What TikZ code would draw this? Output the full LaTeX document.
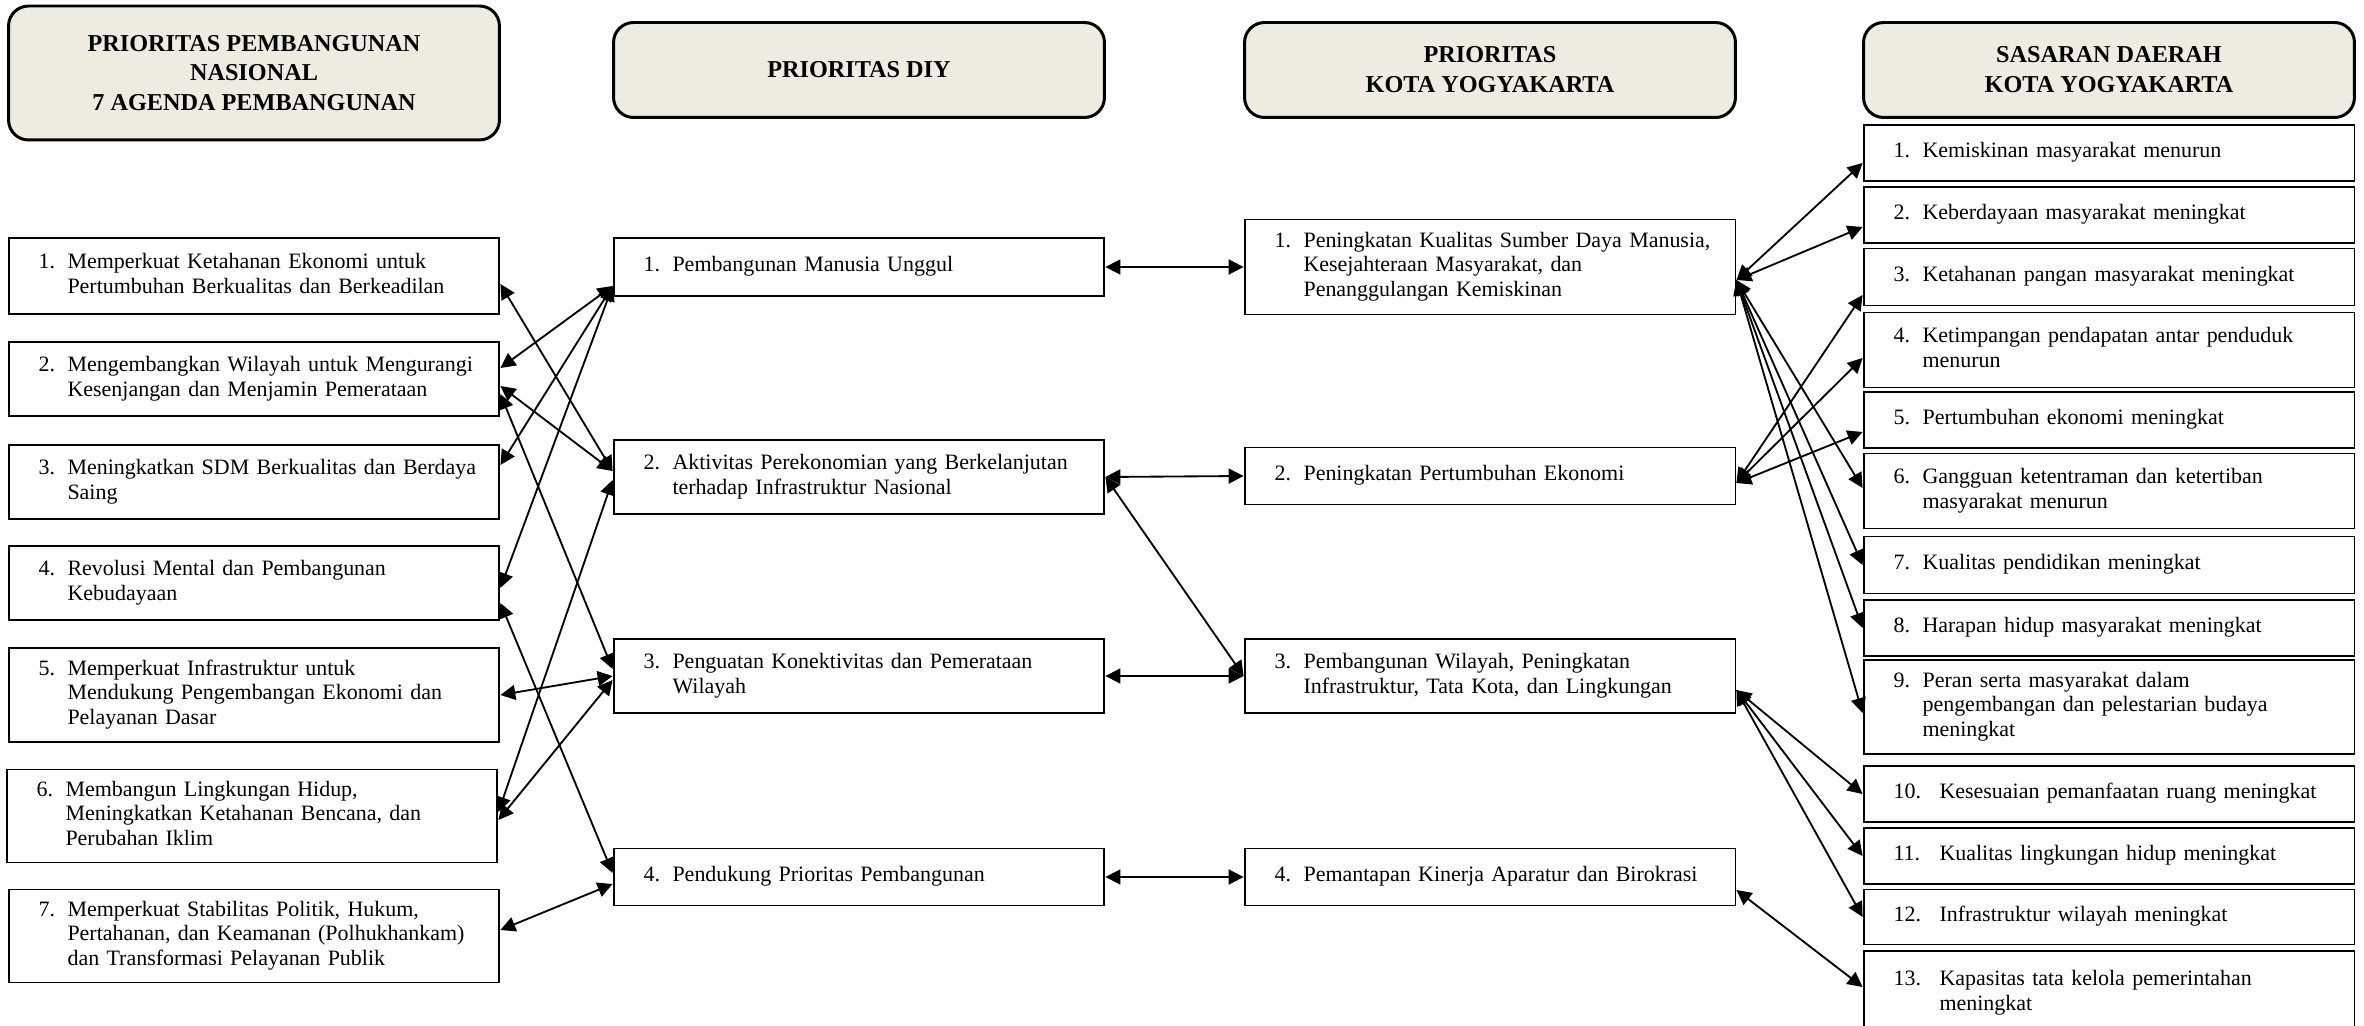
\documentclass[tikz,border=0pt]{standalone}
\usepackage{fontspec}
\setmainfont{Liberation Serif}
\usetikzlibrary{arrows.meta,calc}
\definecolor{headfill}{RGB}{238,236,225}
\newlength{\padl}
\setlength{\padl}{0.24cm}
\newcommand{\itm}[3][0.58cm]{\hspace*{\padl}\makebox[#1][l]{#2}\begin{tabular}[t]{@{}l@{}}#3\end{tabular}}
\tikzset{>={Triangle[length=8.5pt,width=8.5pt]}}
\tikzset{
    head/.style={rectangle,draw,rounded corners=0.4cm,fill=headfill,line width=1.7pt,
        minimum width=9.82cm,minimum height=1.9cm,align=center,
        font=\bfseries\fontsize{13.8}{17}\selectfont},
    item/.style={rectangle,draw,line width=1.1pt,text width=9.1cm,inner xsep=0.36cm,
        inner ysep=0pt,align=left,font=\fontsize{12.5}{14.2}\selectfont},
    boxh/.style={minimum height=#1*0.02cm},
    link/.style={<->,line width=1.05pt},
}

\begin{document}
\begin{tikzpicture}[x=0.02cm,y=-0.02cm]
		\useasboundingbox (0,0) rectangle (2364,1026);
		\clip (0,0) rectangle (2364,1026);

		\node[head,minimum height=2.68cm] (h1) at (254,73) {PRIORITAS PEMBANGUNAN\\NASIONAL\\7 AGENDA PEMBANGUNAN};
		\node[head] (h2) at (859,70) {PRIORITAS DIY};
		\node[head] (h3) at (1490,70) {PRIORITAS\\KOTA YOGYAKARTA};
		\node[head] (h4) at (2109,70) {SASARAN DAERAH\\KOTA YOGYAKARTA};

		\node[item,boxh=76] (L1) at (254,276) {\itm{1.}{Memperkuat Ketahanan Ekonomi untuk\\Pertumbuhan Berkualitas dan Berkeadilan}};
		\node[item,boxh=74] (L2) at (254,379) {\itm{2.}{Mengembangkan Wilayah untuk Mengurangi\\Kesenjangan dan Menjamin Pemerataan}};
		\node[item,boxh=74] (L3) at (254,482) {\itm{3.}{Meningkatkan SDM Berkualitas dan Berdaya\\Saing}};
		\node[item,boxh=74] (L4) at (254,583) {\itm{4.}{Revolusi Mental dan Pembangunan\\Kebudayaan}};
		\node[item,boxh=94] (L5) at (254,695) {\itm{5.}{Memperkuat Infrastruktur untuk\\Mendukung Pengembangan Ekonomi dan\\Pelayanan Dasar}};
		\node[item,boxh=93] (L6) at (252,816) {\itm{6.}{Membangun Lingkungan Hidup,\\Meningkatkan Ketahanan Bencana, dan\\Perubahan Iklim}};
		\node[item,boxh=93] (L7) at (254,936) {\itm{7.}{Memperkuat Stabilitas Politik, Hukum,\\Pertahanan, dan Keamanan (Polhukhankam)\\dan Transformasi Pelayanan Publik}};

		\node[item,boxh=58] (D1) at (859,267) {\itm{1.}{Pembangunan Manusia Unggul}};
		\node[item,boxh=74] (D2) at (859,477) {\itm{2.}{Aktivitas Perekonomian yang Berkelanjutan\\terhadap Infrastruktur Nasional}};
		\node[item,boxh=74] (D3) at (859,676) {\itm{3.}{Penguatan Konektivitas dan Pemerataan\\Wilayah}};
		\node[item,boxh=57] (D4) at (859,877) {\itm{4.}{Pendukung Prioritas Pembangunan}};

		\node[item,boxh=95] (K1) at (1490,267) {\itm{1.}{Peningkatan Kualitas Sumber Daya Manusia,\\Kesejahteraan Masyarakat, dan\\Penanggulangan Kemiskinan}};
		\node[item,boxh=57] (K2) at (1490,476) {\itm{2.}{Peningkatan Pertumbuhan Ekonomi}};
		\node[item,boxh=74] (K3) at (1490,676) {\itm{3.}{Pembangunan Wilayah, Peningkatan\\Infrastruktur, Tata Kota, dan Lingkungan}};
		\node[item,boxh=57] (K4) at (1490,877) {\itm{4.}{Pemantapan Kinerja Aparatur dan Birokrasi}};

		\node[item,boxh=56] (S1) at (2109,153) {\itm{1.}{Kemiskinan masyarakat menurun}};
		\node[item,boxh=56] (S2) at (2109,215) {\itm{2.}{Keberdayaan masyarakat meningkat}};
		\node[item,boxh=57] (S3) at (2109,277) {\itm{3.}{Ketahanan pangan masyarakat meningkat}};
		\node[item,boxh=75] (S4) at (2109,350) {\itm{4.}{Ketimpangan pendapatan antar penduduk\\menurun}};
		\node[item,boxh=56] (S5) at (2109,420) {\itm{5.}{Pertumbuhan ekonomi meningkat}};
		\node[item,boxh=75] (S6) at (2109,491) {\itm{6.}{Gangguan ketentraman dan ketertiban\\masyarakat menurun}};
		\node[item,boxh=57] (S7) at (2109,565) {\itm{7.}{Kualitas pendidikan meningkat}};
		\node[item,boxh=56] (S8) at (2109,628) {\itm{8.}{Harapan hidup masyarakat meningkat}};
		\node[item,boxh=94] (S9) at (2109,707) {\itm{9.}{Peran serta masyarakat dalam\\pengembangan dan pelestarian budaya\\meningkat}};
		\node[item,boxh=56] (S10) at (2109,794) {\itm[0.92cm]{10.}{Kesesuaian pemanfaatan ruang meningkat}};
		\node[item,boxh=56] (S11) at (2109,856) {\itm[0.92cm]{11.}{Kualitas lingkungan hidup meningkat}};
		\node[item,boxh=55] (S12) at (2109,917) {\itm[0.92cm]{12.}{Infrastruktur wilayah meningkat}};
		\node[item,boxh=84] (S13) at (2109,993) {\itm[0.92cm]{13.}{Kapasitas tata kelola pemerintahan\\meningkat}};

		\draw[link] ($(L1.east)+(0,8)$) to ($(D2.west)+(0,-6)$);
		\draw[link] ($(D1.west)+(0,19)$) to ($(L2.east)+(0,-11)$);
		\draw[link] ($(L2.east)+(0,7)$) to ($(D2.west)+(0,-6)$);
		\draw[link] ($(L2.east)+(0,15)$) to ($(D3.west)+(0,-7)$);
		\draw[link] ($(D1.west)+(0,19)$) to ($(L3.east)+(0,-17)$);
		\draw[link] ($(D1.west)+(0,19)$) to ($(L4.east)+(0,5)$);
		\draw[link] ($(L4.east)+(0,20)$) to ($(D4.west)+(0,-4)$);
		\draw[link] (L5.east) to (D3.west);
		\draw[link] ($(D2.west)+(0,3)$) to ($(L6.east)+(0,-4)$);
		\draw[link] ($(D3.west)+(0,4)$) to ($(L6.east)+(0,4)$);
		\draw[link] ($(L7.east)+(0,-6)$) to ($(D4.west)+(0,7)$);

		\draw[link] (D1.east) to (K1.west);
		\draw[link] (D2.east) to (K2.west);
		\draw[link] (D2.east) to (K3.west);
		\draw[link] (D3.east) to (K3.west);
		\draw[link] (D4.east) to (K4.west);

		\draw[link] ($(K1.east)+(0,13)$) to ($(S1.west)+(0,10)$);
		\draw[link] ($(K1.east)+(0,13)$) to ($(S2.west)+(0,12)$);
		\draw[link] ($(K1.east)+(0,13)$) to ($(S6.west)+(0,-3)$);
		\draw[link] ($(K1.east)+(0,13)$) to (S7.west);
		\draw[link] ($(K1.east)+(0,13)$) to (S8.west);
		\draw[link] ($(K1.east)+(0,13)$) to ($(S9.west)+(0,6)$);
		\draw[link] ($(K2.east)+(0,7)$) to ($(S3.west)+(0,18)$);
		\draw[link] ($(K2.east)+(0,7)$) to ($(S4.west)+(0,8)$);
		\draw[link] ($(K2.east)+(0,7)$) to ($(S5.west)+(0,12)$);
		\draw[link] ($(K3.east)+(0,14)$) to (S10.west);
		\draw[link] ($(K3.east)+(0,14)$) to (S11.west);
		\draw[link] ($(K3.east)+(0,14)$) to (S12.west);
		\draw[link] ($(K4.east)+(0,13)$) to ($(S13.west)+(0,-6)$);
	\end{tikzpicture}
\end{document}
